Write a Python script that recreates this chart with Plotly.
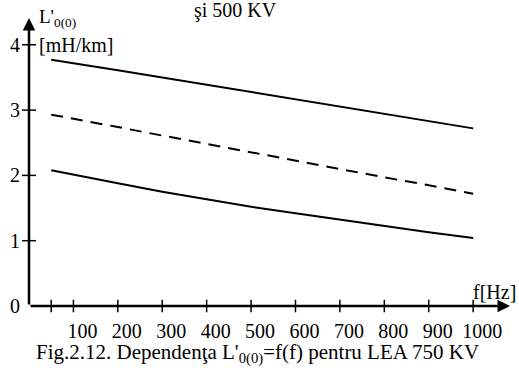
import plotly.graph_objects as go

# frequency grid [Hz]
freq = [50, 100, 200, 300, 400, 500, 600, 700, 800, 900, 1000]
# per-unit-length zero-sequence inductance L'0(0) [mH/km]
curve_top = [3.77, 3.72, 3.61, 3.50, 3.39, 3.28, 3.17, 3.05, 2.94, 2.83, 2.72]
curve_mid = [2.93, 2.87, 2.74, 2.61, 2.48, 2.35, 2.23, 2.10, 1.97, 1.85, 1.72]
curve_low = [2.08, 2.01, 1.88, 1.75, 1.63, 1.52, 1.42, 1.32, 1.22, 1.13, 1.04]

x_tick_vals = [100, 200, 300, 400, 500, 600, 700, 800, 900, 1000]
x_tick_marks = [50] + x_tick_vals
y_tick_vals = [0, 1, 2, 3, 4]
y_tick_marks = [1, 2, 3, 4]

X_MAX = 1083
Y_MAX = 4.41
FONT = "Liberation Serif"

W, H = 519, 373
ML, MR, MT, MB = 29, 9, 18, 67
PW, PH = W - ML - MR, H - MT - MB


def px_to_paper(px, py):
    return (px - ML) / PW, (H - MB - py) / PH


fig = go.Figure()

fig.add_trace(go.Scatter(x=freq, y=curve_top, mode="lines",
                         line=dict(color="black", width=2), cliponaxis=False))
fig.add_trace(go.Scatter(x=freq, y=curve_mid, mode="lines",
                         line=dict(color="black", width=2, dash="12px,8px"),
                         cliponaxis=False))
fig.add_trace(go.Scatter(x=freq, y=curve_low, mode="lines",
                         line=dict(color="black", width=2), cliponaxis=False))

# tick marks crossing the axes
fig.add_trace(go.Scatter(x=x_tick_marks, y=[0] * len(x_tick_marks), mode="markers",
                         marker=dict(symbol="line-ns", size=9,
                                     line=dict(color="black", width=1.5)),
                         cliponaxis=False))
fig.add_trace(go.Scatter(x=[0] * len(y_tick_marks), y=y_tick_marks, mode="markers",
                         marker=dict(symbol="line-ew", size=10,
                                     line=dict(color="black", width=1.5)),
                         cliponaxis=False))

# axes drawn as arrows
fig.add_annotation(x=X_MAX, y=0, ax=0, ay=0, xref="x", yref="y", axref="x", ayref="y",
                   showarrow=True, arrowhead=2, arrowsize=1, arrowwidth=2.5,
                   arrowcolor="black", text="")
fig.add_annotation(x=0, y=Y_MAX, ax=0, ay=0, xref="x", yref="y", axref="x", ayref="y",
                   showarrow=True, arrowhead=2, arrowsize=1, arrowwidth=2.5,
                   arrowcolor="black", text="")

# free text labels, positioned in page pixels
labels = [
    ("L'<sub>0(0)</sub>", 37, 18, "left", 19),
    ("[mH/km]", 37, 45, "left", 20),
    ("şi 500 KV", 235, 11, "center", 20),
    ("f[Hz]", 494, 292, "center", 20),
    ("Fig.2.12. Dependenţa L'<sub>0(0)</sub>=f(f) pentru LEA 750 KV",
     257, 353, "center", 21),
]
for text, px, py, anchor, size in labels:
    xp, yp = px_to_paper(px, py)
    fig.add_annotation(x=xp, y=yp, xref="paper", yref="paper", showarrow=False,
                       text=text, xanchor=anchor, yanchor="middle",
                       font=dict(family=FONT, size=size, color="black"))

fig.update_layout(
    width=W, height=H,
    margin=dict(l=ML, r=MR, t=MT, b=MB),
    paper_bgcolor="white", plot_bgcolor="white",
    showlegend=False,
    font=dict(family=FONT, color="black"),
)
fig.update_xaxes(range=[0, X_MAX], showgrid=False, zeroline=False, showline=False,
                 tickvals=x_tick_vals, ticks="", ticklabelstandoff=11,
                 ticklabelshift=9, tickfont=dict(family=FONT, size=20, color="black"))
fig.update_yaxes(range=[0, Y_MAX], showgrid=False, zeroline=False, showline=False,
                 tickvals=y_tick_vals, ticks="", ticklabelstandoff=8,
                 tickfont=dict(family=FONT, size=20, color="black"))

fig.write_html("out.html")
